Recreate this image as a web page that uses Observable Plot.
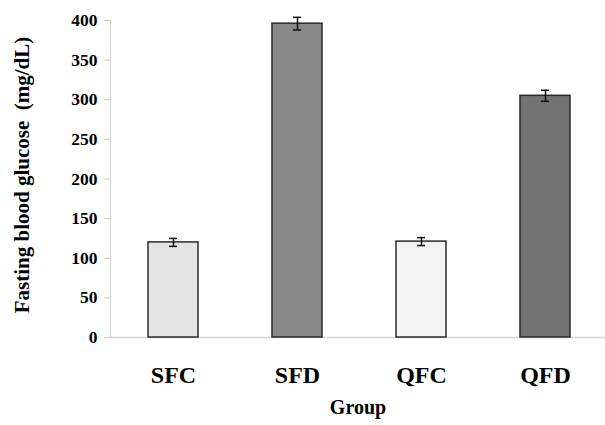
<!DOCTYPE html>
<html>
<head>
<meta charset="utf-8">
<script src="https://cdn.jsdelivr.net/npm/d3@7"></script>
<script src="https://cdn.jsdelivr.net/npm/@observablehq/plot@0.6"></script>
<style>
  html, body { margin: 0; padding: 0; background: #fff; }
  #chart { width: 605px; height: 425px; }
</style>
</head>
<body>
<div id="chart"></div>
<script>
// Data
const groups = ["SFC", "SFD", "QFC", "QFD"];
const means = [120, 396, 121, 305];
const errors = [5, 8, 5, 7];
const yTicks = [0, 50, 100, 150, 200, 250, 300, 350, 400];
const xTitle = "Group";
const yTitle = "Fasting blood glucose  (mg/dL)";

// Styles
const barFills = ["#e4e4e4", "#898989", "#f3f3f3", "#727272"];
const font = "'Liberation Serif', 'Times New Roman', serif";

const data = groups.map((g, i) => ({ group: g, mean: means[i], lo: means[i] - errors[i], hi: means[i] + errors[i] }));

const chart = Plot.plot({
  width: 605,
  height: 425,
  marginLeft: 110,
  marginRight: 0,
  marginTop: 20,
  marginBottom: 88,
  style: { fontFamily: font, background: "#fff" },
  x: { domain: groups, range: [110, 607], paddingInner: 0.6, paddingOuter: 0.3, align: 0.5 },
  y: { domain: [0, 400], ticks: yTicks },
  color: { domain: groups, range: barFills },
  marks: [
    Plot.ruleY([0], { stroke: "#d4d4d4", strokeWidth: 1.5 }),
    Plot.frame({ anchor: "left", stroke: "#d4d4d4", strokeWidth: 1.2 }),
    Plot.axisY({ ticks: yTicks, tickSize: 6, stroke: "#c8c8c8", tickPadding: 7, fontSize: 17.5, fontWeight: "bold", fill: "#000", label: null }),
    Plot.axisX({ tickSize: 0, tickPadding: 28, fontSize: 24, fontWeight: "bold", fill: "#000", label: null }),
    Plot.barY(data, { x: "group", y: "mean", fill: "group", stroke: "#2b2b2b", strokeWidth: 1.5 }),
    Plot.ruleX(data, { x: "group", y1: "lo", y2: "hi", stroke: "#111", strokeWidth: 1.5 }),
    Plot.tickY(data, { x: "group", y: "lo", stroke: "#111", strokeWidth: 1.5, insetLeft: 21, insetRight: 21 }),
    Plot.tickY(data, { x: "group", y: "hi", stroke: "#111", strokeWidth: 1.5, insetLeft: 21, insetRight: 21 }),
    Plot.text([yTitle], { frameAnchor: "left", dx: -88, dy: -4, rotate: -90, textAnchor: "middle", fontSize: 21, fontWeight: "bold", fill: "#000", text: d => d }),
    Plot.text([xTitle], { frameAnchor: "bottom", dy: 76, fontSize: 20, fontWeight: "bold", fill: "#000", text: d => d })
  ]
});
document.getElementById("chart").appendChild(chart);
</script>
</body>
</html>
